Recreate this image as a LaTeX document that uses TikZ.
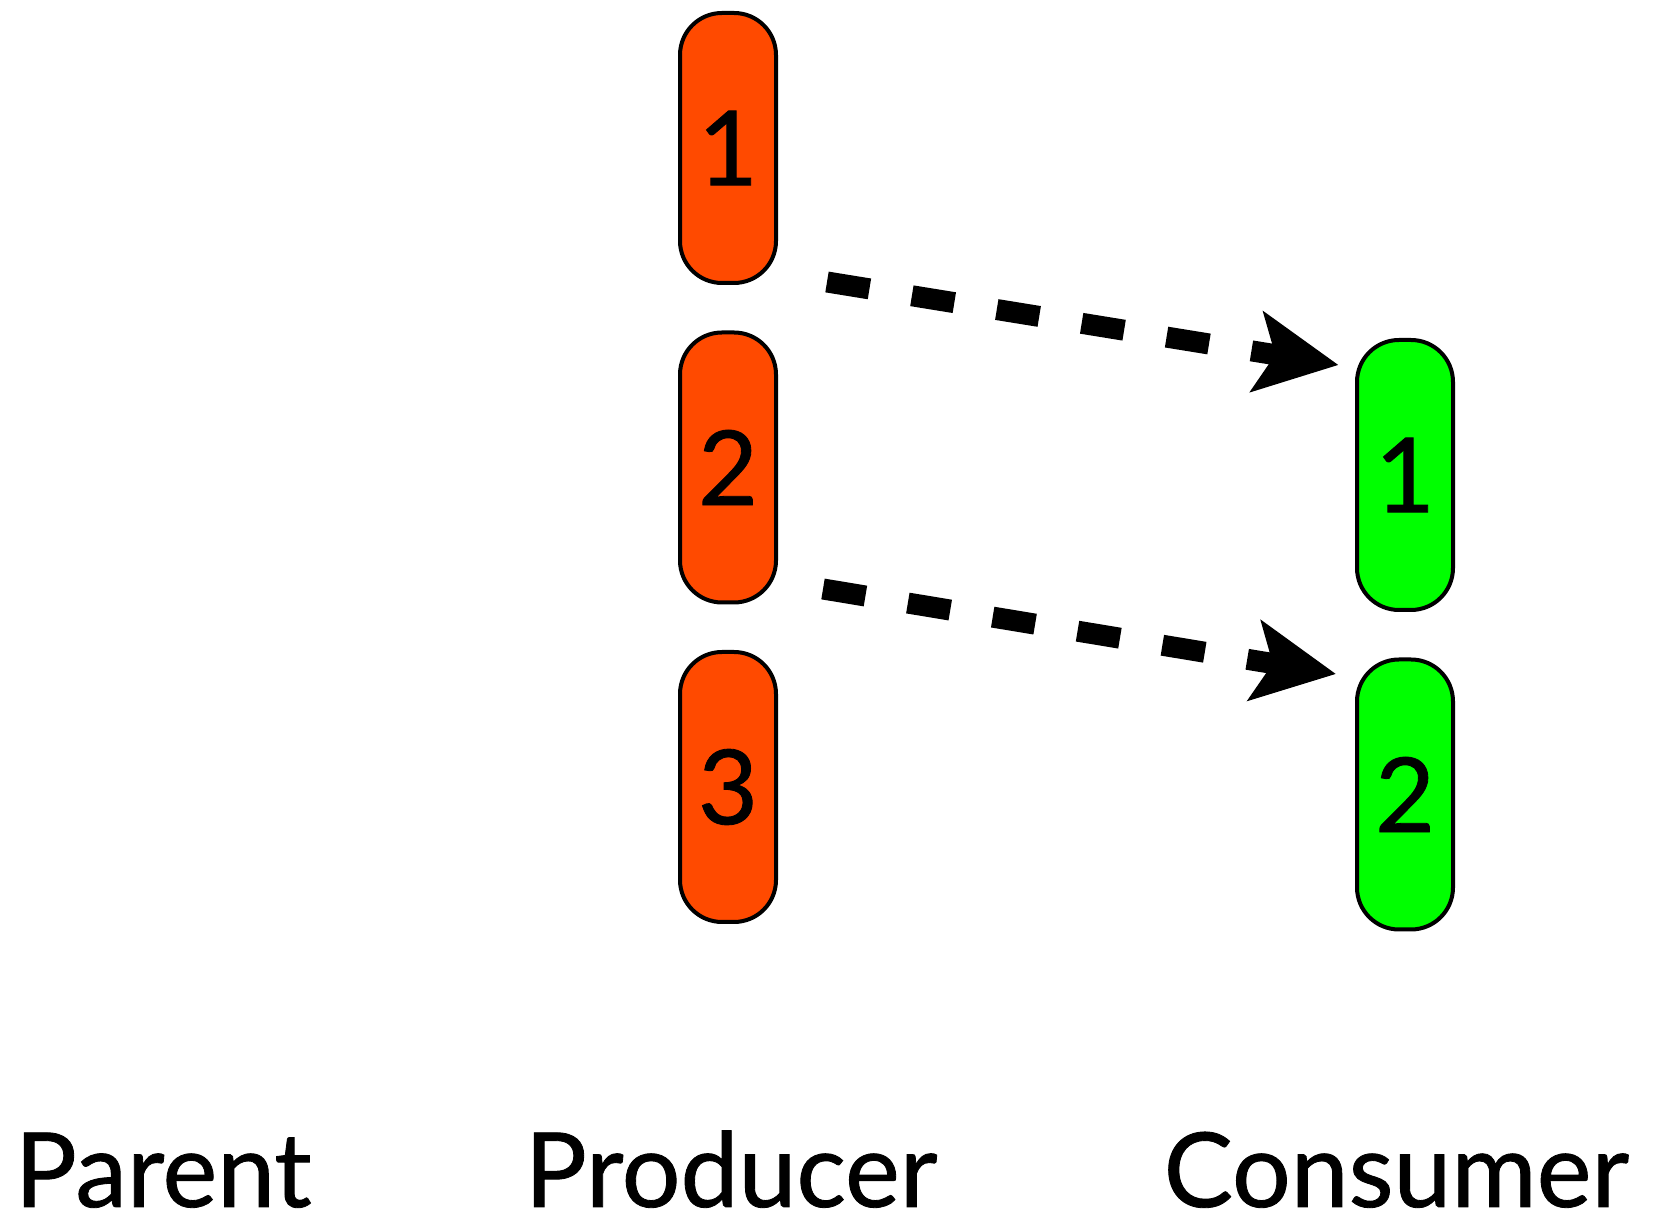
\documentclass[tikz,border=0pt]{standalone}
\usepackage{fontspec}
\setmainfont{Lato}[FakeBold=0.8]
\usetikzlibrary{arrows.meta,positioning}
\definecolor{prodorange}{HTML}{FF4A00}
\definecolor{consgreen}{HTML}{00FF00}

\begin{document}
\begin{tikzpicture}[node distance=0.455cm, every node/.style={font=\fontsize{29.5}{36}\selectfont},
 slot/.style={draw=black,line width=0.04cm,rounded corners=0.42cm,minimum width=0.96cm,minimum height=2.70cm,inner sep=0pt},
 prod/.style={slot,fill=prodorange},
 cons/.style={slot,fill=consgreen},
 flow/.style={-{Stealth[length=0.82cm,width=0.8cm,inset=0.18cm]},line width=0.21cm,dash pattern=on 0.43cm off 0.43cm},
 lbl/.style={anchor=base west,inner sep=0pt}]
\useasboundingbox (0,0) rectangle (16.59,12.15);
\node[prod] (p1) at (7.28,10.67) {1};
\node[prod,below=of p1] (p2) {2};
\node[prod,below=of p2] (p3) {3};
\node[cons] (c1) at (14.05,7.40) {1};
\node[cons,below=of c1] (c2) {2};
\draw[flow] ([shift={(0.49,0.03)}]p1.south east) -- ([shift={(-0.165,-0.27)}]c1.north west);
\draw[flow] ([shift={(0.45,0.155)}]p2.south east) -- ([shift={(-0.19,-0.165)}]c2.north west);
\node[lbl] (parent) at (0.14,0.08) {Parent};
\node[lbl] (producer) at (5.24,0.08) {Producer};
\node[lbl] (consumer) at (11.63,0.08) {Consumer};
\end{tikzpicture}
\end{document}
